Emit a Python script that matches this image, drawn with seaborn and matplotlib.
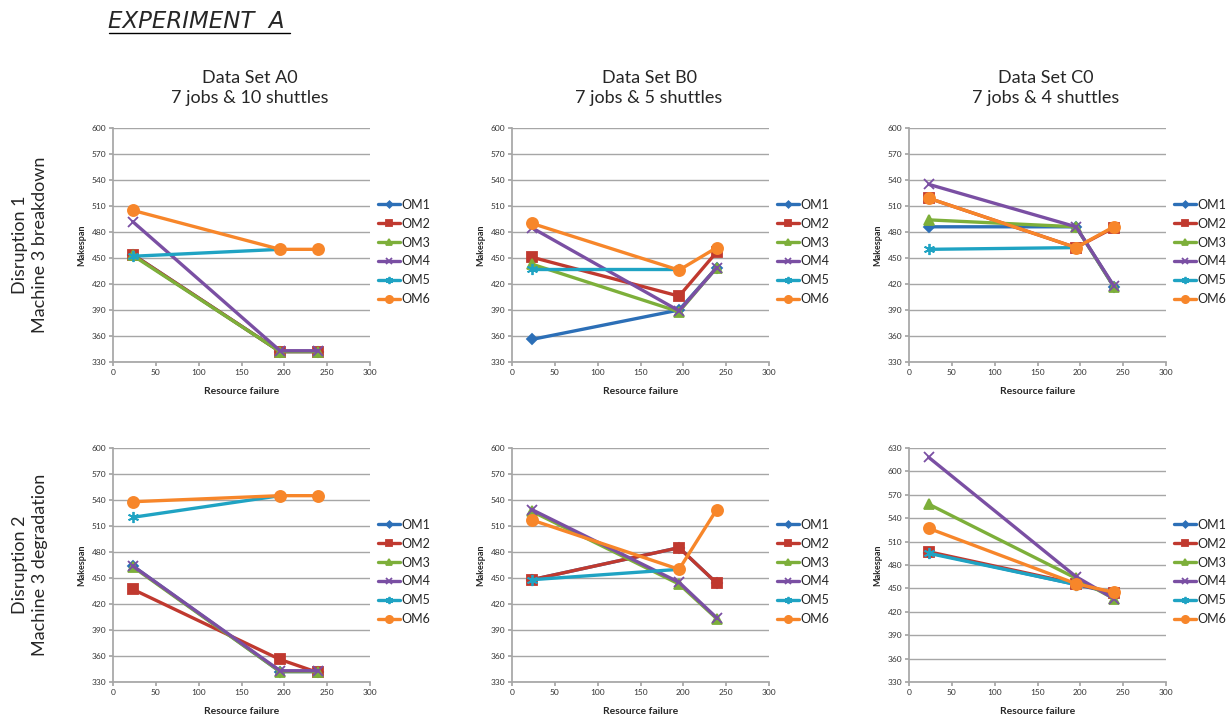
import numpy as np
import pandas as pd
import matplotlib
matplotlib.use("Agg")
import matplotlib.pyplot as plt
import seaborn as sns
from matplotlib.lines import Line2D

nan = np.nan

# resource failure times (x) and the six methods
resource_failure = [23, 195, 239]
methods = ["OM1", "OM2", "OM3", "OM4", "OM5", "OM6"]

# Disruption 1: machine 3 breakdown
a0_breakdown = {
    "OM1": [454, 342, 342],
    "OM2": [454, 342, 342],
    "OM3": [453, 342, 342],
    "OM4": [492, 343, 343],
    "OM5": [452, 460, nan],
    "OM6": [505, 460, 460],
}
b0_breakdown = {
    "OM1": [356, 390, 439],
    "OM2": [451, 406, 457],
    "OM3": [443, 388, 439],
    "OM4": [485, 389, 439],
    "OM5": [437, 437, nan],
    "OM6": [490, 436, 462],
}
c0_breakdown = {
    "OM1": [486, 486, 417],
    "OM2": [519, 462, 485],
    "OM3": [494, 486, 417],
    "OM4": [535, 486, 418],
    "OM5": [460, 462, nan],
    "OM6": [519, 462, 486],
}

# Disruption 2: machine 3 degradation
a0_degradation = {
    "OM1": [464, 342, 342],
    "OM2": [437, 356, 341],
    "OM3": [463, 342, 342],
    "OM4": [464, 343, 343],
    "OM5": [520, 545, nan],
    "OM6": [538, 545, 545],
}
b0_degradation = {
    "OM1": [448, 485, 444],
    "OM2": [448, 485, 444],
    "OM3": [527, 443, 403],
    "OM4": [529, 445, 404],
    "OM5": [448, 460, nan],
    "OM6": [517, 460, 529],
}
c0_degradation = {
    "OM1": [496, 455, 444],
    "OM2": [497, 456, 444],
    "OM3": [558, 463, 437],
    "OM4": [618, 465, 437],
    "OM5": [495, 455, nan],
    "OM6": [527, 456, 445],
}

col_titles = ["Data Set A0\n7 jobs & 10 shuttles",
              "Data Set B0\n7 jobs & 5 shuttles",
              "Data Set C0\n7 jobs & 4 shuttles"]
row_titles = ["Disruption 1\nMachine 3 breakdown",
              "Disruption 2\nMachine 3 degradation"]

colors = ["#2C6FB7", "#C0392F", "#7DAF3A", "#7A4FA3", "#1FA3C3", "#F7862A"]
markers = ["D", "s", "^", "x", (6, 2, 0), "o"]
msizes = [5, 7, 7, 7, 8, 8]

sns.set_theme(style="white")
plt.rcParams["font.family"] = ["Lato", "DejaVu Sans"]

fig = plt.figure(figsize=(12.27, 7.24), dpi=100)

panels = [[a0_breakdown, b0_breakdown, c0_breakdown],
          [a0_degradation, b0_degradation, c0_degradation]]
lefts = [113, 512, 909]
tops = [128, 448]
W, H = 1227, 724
grid_col = "#A6A6A6"


def draw_panel(ax, values, ymax):
    for name, color, marker, ms in zip(methods, colors, markers, msizes):
        frame = pd.DataFrame({"x": resource_failure, "y": values[name]}).dropna()
        sns.lineplot(data=frame, x="x", y="y", ax=ax, color=color, marker=marker,
                     markersize=ms, markeredgecolor=color, markeredgewidth=1.3,
                     linewidth=2.4, label=name, sort=False)
    ax.set_xlim(0, 300)
    ax.set_ylim(330, ymax)
    ax.set_xticks(range(0, 301, 50))
    ax.set_yticks(range(330, ymax + 1, 30))
    ax.yaxis.grid(True, color=grid_col, linewidth=1)
    ax.set_axisbelow(True)
    for s in ["top", "right"]:
        ax.spines[s].set_visible(False)
    for s in ["left", "bottom"]:
        ax.spines[s].set_color(grid_col)
    ax.tick_params(left=True, bottom=True, length=3, color=grid_col,
                   labelsize=6, labelcolor="#333333", pad=2)
    ax.set_xlabel("Resource failure", fontsize=7.5, fontweight="bold", labelpad=8)
    ax.set_ylabel("Makespan", fontsize=6.5, fontweight="bold", labelpad=4)
    ax.legend(loc="center left", bbox_to_anchor=(1.03, 0.47), frameon=False,
              fontsize=9, handlelength=1.8, handletextpad=0.1, labelspacing=0.55,
              borderaxespad=0, borderpad=0, markerscale=0.65)


for r in range(2):
    for c in range(3):
        ax = fig.add_axes([lefts[c] / W, 1 - (tops[r] + 234) / H, 257 / W, 234 / H])
        ymax = 630 if (r == 1 and c == 2) else 600
        draw_panel(ax, panels[r][c], ymax)

for c, title in enumerate(col_titles):
    fig.text((lefts[c] + 137) / W, 1 - 88 / H, title, ha="center", va="center",
             fontsize=13, linespacing=1.3)

for r, title in enumerate(row_titles):
    fig.text(30 / W, 1 - (245 + 320 * r) / H, title, rotation=90, ha="center",
             va="center", fontsize=13, multialignment="center", linespacing=1.3)

fig.text(108 / W, 1 - 21 / H, "EXPERIMENT  A", fontsize=16.5, style="italic",
         family=["DejaVu Sans"], ha="left", va="center")
fig.add_artist(Line2D([109 / W, 290 / W], [1 - 33 / H, 1 - 33 / H], color="black",
                      linewidth=1, transform=fig.transFigure))

fig.savefig("out.png", dpi=100)
